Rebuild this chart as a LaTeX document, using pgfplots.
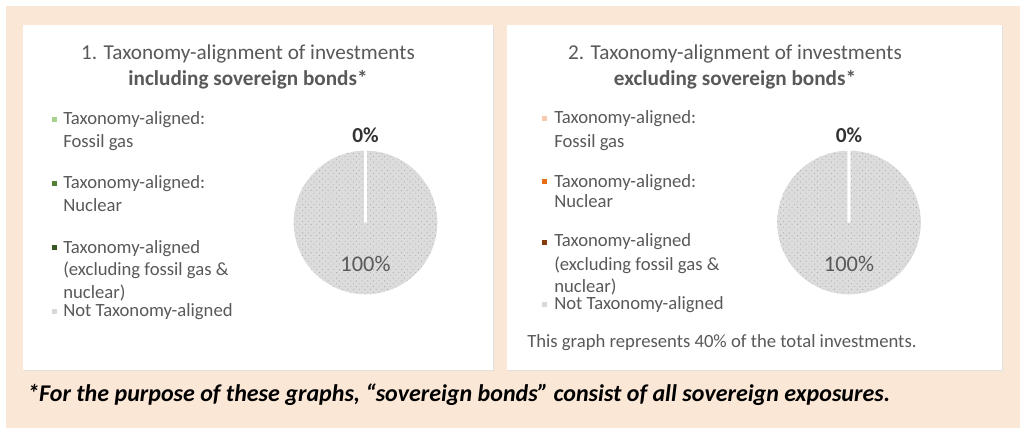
\documentclass[border=0pt]{standalone}
\usepackage{pgfplots}
\pgfplotsset{compat=1.18}
\usepackage{pgfplotstable}
\usetikzlibrary{patterns.meta}
\usepackage{fontspec}
\setmainfont{Carlito}
\definecolor{peach}{RGB}{251,231,214}
\definecolor{txt}{RGB}{89,89,89}
\definecolor{piegray}{RGB}{220,220,220}
\definecolor{dotgray}{RGB}{172,172,172}
\definecolor{gA}{RGB}{169,209,142}
\definecolor{gB}{RGB}{84,130,53}
\definecolor{gC}{RGB}{56,87,35}
\definecolor{oA}{RGB}{248,203,173}
\definecolor{oB}{RGB}{230,110,20}
\definecolor{oC}{RGB}{132,60,12}
\definecolor{lg}{RGB}{217,217,217}

\pgfplotstableread{
cat value
gas 0
nuclear 0
aligned 0
not 100
}\pieA
\pgfplotstableread{
cat value
gas 0
nuclear 0
aligned 0
not 100
}\pieB

\pgfplotsset{pie/.style={hide axis, scale only axis, width=110.25pt, height=110.25pt,
  xmin=-1,xmax=1,ymin=-1,ymax=1, anchor=center, clip=false}}

\begin{document}
\begin{tikzpicture}[x=0.75pt,y=-0.75pt]
\fill[white] (0,0) rectangle (1026,428);
\fill[peach] (6,6) rectangle (1020,428);
% panels
\fill[black!12] (24,26) rectangle (494,371);
\fill[white] (23,25) rectangle (493,370);
\fill[black!12] (508,26) rectangle (1003,371);
\fill[white] (507,25) rectangle (1002,370);
\coordinate (pA) at (365.5,222.5);
\coordinate (pB) at (849,222.5);

% titles
\node[anchor=base, text=txt, font=\fontsize{15.9pt}{18pt}\selectfont] at (248,60) {1. Taxonomy-alignment of investments};
\node[anchor=base, text=txt, font=\fontsize{15.9pt}{18pt}\selectfont\bfseries] at (248,86) {including sovereign bonds*};
\node[anchor=base, text=txt, font=\fontsize{15.9pt}{18pt}\selectfont] at (735,60) {2. Taxonomy-alignment of investments};
\node[anchor=base, text=txt, font=\fontsize{15.9pt}{18pt}\selectfont\bfseries] at (735,86) {excluding sovereign bonds*};

% legend left
\tikzset{lt/.style={anchor=base west, inner sep=0pt, text=txt, font=\fontsize{14pt}{16pt}\selectfont}}
\fill[gA] (52,117) rectangle (57,122);
\fill[gB] (52,181) rectangle (57,186);
\fill[gC] (52,245) rectangle (57,250);
\fill[lg] (52,309) rectangle (57,314);
\node[lt] at (63,125) {Taxonomy-aligned:};
\node[lt] at (63,148) {Fossil gas};
\node[lt] at (63,189) {Taxonomy-aligned:};
\node[lt] at (63,211) {Nuclear};
\node[lt] at (63,253) {Taxonomy-aligned};
\node[lt] at (63,275) {(excluding fossil gas \&};
\node[lt] at (63,298) {nuclear)};
\node[lt] at (63,316) {Not Taxonomy-aligned};
% legend right
\fill[oA] (542,116) rectangle (547,121);
\fill[oB] (542,179) rectangle (547,184);
\fill[oC] (542,240) rectangle (547,245);
\fill[lg] (542,302) rectangle (547,307);
\node[lt] at (554,124) {Taxonomy-aligned:};
\node[lt] at (554,147) {Fossil gas};
\node[lt] at (554,187) {Taxonomy-aligned:};
\node[lt] at (554,208) {Nuclear};
\node[lt] at (554,247) {Taxonomy-aligned};
\node[lt] at (554,270) {(excluding fossil gas \&};
\node[lt] at (554,292) {nuclear)};
\node[lt] at (554,309) {Not Taxonomy-aligned};

\node[anchor=base west, inner sep=0pt, text=txt, font=\fontsize{14pt}{16pt}\selectfont] at (527,347) {This graph represents 40\% of the total investments.};

\node[anchor=base west, inner sep=0pt, text=black, font=\fontsize{18pt}{20pt}\selectfont\bfseries\itshape] at (27,401) {*For the purpose of these graphs, “sovereign bonds” consist of all sovereign exposures.};

% pies
\pgfplotstablegetelem{3}{value}\of\pieA
\pgfmathsetmacro\endA{90-3.6*\pgfplotsretval}
\begin{axis}[pie, at={(pA)}]
\addplot[fill=piegray, draw=white, line width=2.2pt, line join=miter,
  postaction={pattern={Dots[radius=0.45pt, distance=3pt, angle=45]}, pattern color=dotgray},
  domain=\endA:90, samples=200, variable=\t] ({cos(\t)},{sin(\t)}) -- (axis cs:0,0) -- cycle;
\node[text=black!80, font=\fontsize{16pt}{18pt}\selectfont\bfseries] at (axis cs:0,1.19) {0\%};
\node[text=txt, font=\fontsize{16.8pt}{18pt}\selectfont] at (axis cs:0,-0.56) {100\%};
\end{axis}
\pgfplotstablegetelem{3}{value}\of\pieB
\pgfmathsetmacro\endB{90-3.6*\pgfplotsretval}
\begin{axis}[pie, at={(pB)}]
\addplot[fill=piegray, draw=white, line width=2.2pt, line join=miter,
  postaction={pattern={Dots[radius=0.45pt, distance=3pt, angle=45]}, pattern color=dotgray},
  domain=\endB:90, samples=200, variable=\t] ({cos(\t)},{sin(\t)}) -- (axis cs:0,0) -- cycle;
\node[text=black!80, font=\fontsize{16pt}{18pt}\selectfont\bfseries] at (axis cs:0,1.19) {0\%};
\node[text=txt, font=\fontsize{16.8pt}{18pt}\selectfont] at (axis cs:0,-0.56) {100\%};
\end{axis}
\end{tikzpicture}
\end{document}
